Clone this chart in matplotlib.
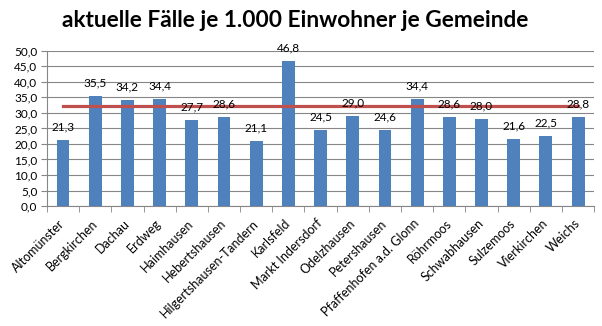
import numpy as np
import matplotlib.pyplot as plt

gemeinden = ["Altomünster", "Bergkirchen", "Dachau", "Erdweg", "Haimhausen",
             "Hebertshausen", "Hilgertshausen-Tandern", "Karlsfeld", "Markt Indersdorf",
             "Odelzhausen", "Petershausen", "Pfaffenhofen a.d. Glonn", "Röhrmoos",
             "Schwabhausen", "Sulzemoos", "Vierkirchen", "Weichs"]
faelle = [21.3, 35.5, 34.2, 34.4, 27.7, 28.6, 21.1, 46.8, 24.5,
          29.0, 24.6, 34.4, 28.6, 28.0, 21.6, 22.5, 28.8]
durchschnitt = [32.1] * len(gemeinden)

plt.rcParams['font.family'] = ['Lato', 'DejaVu Sans']

fig = plt.figure(figsize=(6.02, 3.26), dpi=100)
ax = fig.add_axes([0.078, 0.368, 0.909, 0.476])

x = np.arange(len(gemeinden))
ax.bar(x, faelle, width=0.4, color="#4F81BD", zorder=3)
ax.plot(x, durchschnitt, color="#C0504D", linewidth=2.3, zorder=4)

for xi, v in zip(x, faelle):
    ax.text(xi, v + 2.4, f"{v:.1f}".replace(".", ","), ha="center", va="bottom",
            fontsize=8.5, zorder=5)

ax.set_xlim(-0.5, len(gemeinden) - 0.5)
ax.set_ylim(0, 50)
ax.set_yticks(np.arange(0, 51, 5))
ax.set_yticklabels([f"{t:.1f}".replace(".", ",") for t in np.arange(0, 51, 5)], fontsize=8.5)
ax.set_xticks(x)
ax.set_xticklabels(gemeinden, rotation=45, ha="right", va="center",
                   rotation_mode="anchor", fontsize=9)
ax.set_xticks(np.arange(-0.5, len(gemeinden)), minor=True)
ax.tick_params(axis="x", which="major", length=0, pad=11)
ax.tick_params(axis="x", which="minor", length=4, color="#868686")
ax.tick_params(axis="y", length=4, color="#868686", pad=3)

ax.grid(axis="y", color="#868686", linewidth=0.8, zorder=0)
for s in ["top", "right"]:
    ax.spines[s].set_visible(False)
for s in ["left", "bottom"]:
    ax.spines[s].set_color("#868686")

fig.suptitle("aktuelle Fälle je 1.000 Einwohner je Gemeinde", x=0.49, y=0.97,
             fontsize=16.3, fontweight="bold")

fig.savefig("out.png", dpi=100)
